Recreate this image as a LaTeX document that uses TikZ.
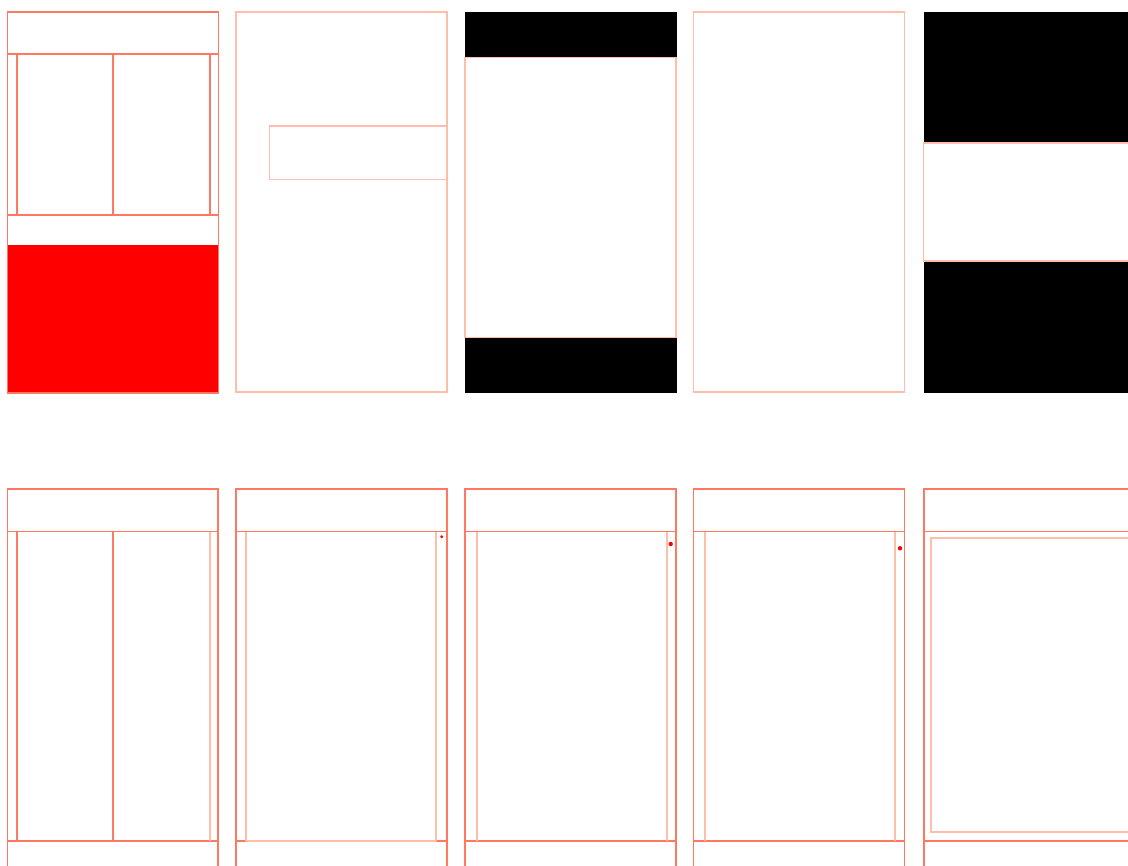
\documentclass[tikz,border=0pt]{standalone}
\definecolor{strong}{RGB}{255,120,95}
\definecolor{soft}{RGB}{255,190,170}
\definecolor{pure}{RGB}{255,0,0}
\begin{document}
\begin{tikzpicture}[x=0.75pt,y=-0.75pt,
  sl/.style={draw=strong,line width=1.4pt},
  ll/.style={draw=soft,line width=1.4pt},
  blk/.style={fill=black},
  dot/.style={fill=pure,draw=none}]
\useasboundingbox (0,0) rectangle (1128,866);
\fill[white] (0,0) rectangle (1128,866);
% ---------- top row ----------
% panel 1
\fill[pure] (7.5,245) rectangle (218.5,393);
\draw[sl] (7.5,12) rectangle (218.5,393);
\draw[sl] (7.5,54) -- (218.5,54);
\draw[sl] (7.5,215) -- (218.5,215);
\draw[sl] (16.7,54) -- (16.7,215);
\draw[sl] (113,54) -- (113,215);
\draw[sl] (210,54) -- (210,215);
% panel 2
\draw[ll] (236,12) rectangle (447,392);
\draw[ll] (269.5,126) rectangle (447,179.5);
% panel 3
\fill[black] (464.5,12) rectangle (676.5,57.5);
\fill[black] (464.5,337.5) rectangle (676.5,393);
\draw[ll] (465,57.5) rectangle (676,337.5);
% panel 4
\draw[ll] (693.5,12) rectangle (904.5,392);
% panel 5
\fill[black] (923.5,12) rectangle (1128,143.3);
\fill[black] (923.5,261) rectangle (1128,393);
\draw[ll] (1128,143.3) -- (923.5,143.3) -- (923.5,261) -- (1128,261);
% ---------- bottom row ----------
% panel 1
\draw[sl] (7.5,866) -- (7.5,489.3) -- (218.3,489.3) -- (218.3,866);
\draw[sl] (7.5,531.5) -- (218.3,531.5);
\draw[sl] (7.5,840.7) -- (218.3,840.7);
\draw[sl] (16.7,531.5) -- (16.7,840.7);
\draw[sl] (113,531.5) -- (113,840.7);
\draw[ll] (210,531.5) -- (210,840.7);
% panel 2
\draw[sl] (236,866) -- (236,489.3) -- (447,489.3) -- (447,866);
\draw[sl] (236,531.5) -- (447,531.5);
\draw[sl] (236,840.7) -- (245.7,840.7);
\draw[sl] (435.7,840.7) -- (447,840.7);
\draw[ll] (245.7,840.7) -- (435.7,840.7);
\draw[ll] (245.7,531.5) -- (245.7,840.7);
\draw[ll] (435.7,531.5) -- (435.7,840.7);
\fill[dot] (441.7,536.7) circle (1.6);
% panel 3
\draw[sl] (465,866) -- (465,489.3) -- (676,489.3) -- (676,866);
\draw[sl] (465,531.5) -- (676,531.5);
\draw[sl] (465,840.7) -- (676,840.7);
\draw[ll] (476.7,531.5) -- (476.7,840.7);
\draw[ll] (666.7,531.5) -- (666.7,840.7);
\fill[dot] (670.7,544) circle (2.2);
% panel 4
\draw[sl] (693.5,866) -- (693.5,489.3) -- (904.5,489.3) -- (904.5,866);
\draw[sl] (693.5,531.5) -- (904.5,531.5);
\draw[sl] (693.5,840.7) -- (904.5,840.7);
\draw[ll] (705,531.5) -- (705,840.7);
\draw[ll] (895,531.5) -- (895,840.7);
\fill[dot] (900,548.3) circle (2.2);
% panel 5
\draw[sl] (1128,489.3) -- (924.3,489.3) -- (924.3,866);
\draw[sl] (924.3,531.5) -- (1128,531.5);
\draw[sl] (924.3,840.7) -- (1128,840.7);
\draw[ll] (1128,538.3) -- (930.7,538.3) -- (930.7,831.7) -- (1128,831.7);
\end{tikzpicture}
\end{document}
